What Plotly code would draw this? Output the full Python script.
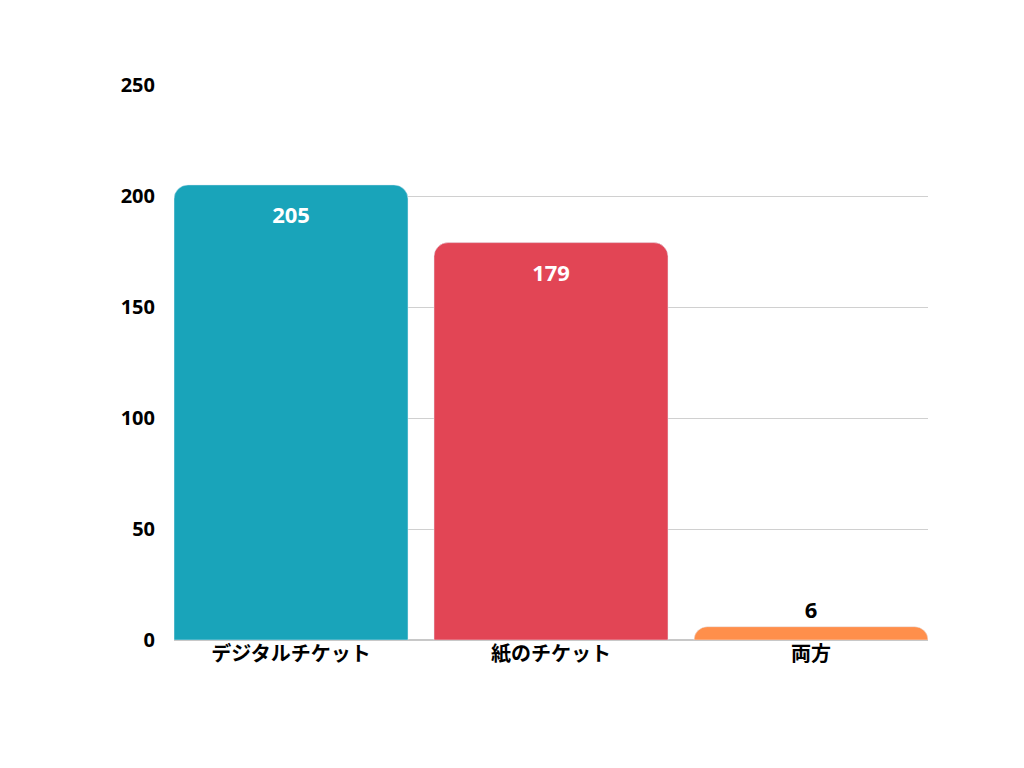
import plotly.graph_objects as go

categories = ["デジタルチケット", "紙のチケット", "両方"]
values = [205, 179, 6]
colors = ["#19A4BA", "#E24555", "#FF8F4B"]
text_pos = ["inside", "inside", "outside"]
text_colors = ["white", "white", "black"]

fig = go.Figure(go.Bar(
    x=categories, y=values, marker=dict(color=colors, cornerradius=14),
    text=values, textposition=text_pos, insidetextanchor="end",
    textfont=dict(color=text_colors, size=22, family="Open Sans"),
    cliponaxis=False,
))
fig.update_layout(
    width=1024, height=768, plot_bgcolor="white", paper_bgcolor="white",
    margin=dict(l=166, r=104, t=77, b=136), bargap=0.1, showlegend=False,
    font=dict(family="Open Sans, Noto Sans CJK JP", size=20, color="black"),
    yaxis=dict(range=[0, 250], dtick=50, gridcolor="#D0D0D0", zeroline=True,
               zerolinecolor="#C8C8C8", ticks="", ticklabelstandoff=18,
               tickfont=dict(size=20, family="Open Sans", weight="bold")),
    xaxis=dict(range=[-0.45, 2.45], tickfont=dict(size=20, family="Noto Sans CJK JP", weight="bold")),
    uniformtext=dict(minsize=10),
)
fig.update_traces(textfont_weight="bold")
fig.write_html("out.html")
